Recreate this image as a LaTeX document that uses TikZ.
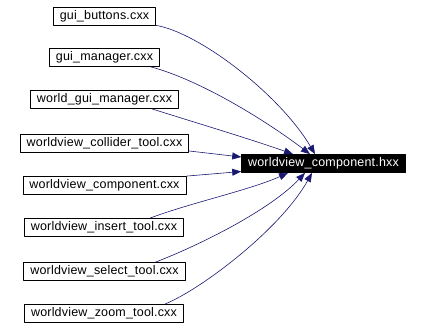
\documentclass[tikz,border=0pt]{standalone}
\usepackage{fontspec}
\setmainfont{Liberation Sans}[LetterSpace=1.5]
\usetikzlibrary{calc,arrows.meta}
\definecolor{edgeblue}{HTML}{191970}
\tikzset{depgraph/.style={
  x=1pt,y=-1pt,
  >={Triangle[length=9pt,width=7pt]},line join=round
},
  file/.style={draw,line width=0.8pt,font=\fontsize{12.5}{14}\selectfont,
    inner xsep=6.5pt,inner ysep=0pt,minimum height=18pt},
  header/.style={file,fill=black,text=white},
  dep/.style={->,edgeblue,line width=0.6pt}
}

\begin{document}
\begin{tikzpicture}[depgraph]
  \useasboundingbox (0,0) rectangle (422,329);
  \node[file] (buttons) at (104.5,16) {gui\_buttons.cxx};
  \node[file] (guimgr) at (104.5,57.5) {gui\_manager.cxx};
  \node[file] (worldgui) at (104.5,99.5) {world\_gui\_manager.cxx};
  \node[file] (collider) at (104.5,143) {worldview\_collider\_tool.cxx};
  \node[file] (compsrc) at (104.5,185.5) {worldview\_component.cxx};
  \node[file] (insert) at (104,227.5) {worldview\_insert\_tool.cxx};
  \node[file] (select) at (104.5,271.5) {worldview\_select\_tool.cxx};
  \node[file] (zoomtool) at (104,313.5) {worldview\_zoom\_tool.cxx};
  \node[header] (comp) at (323.5,163.5) {worldview\_component.hxx};
  % includes
  \draw[dep] (buttons.south east) .. controls (200,33) and (280,95) .. ([xshift=-8.5pt]comp.north);
  \draw[dep] ([xshift=-9pt]guimgr.south east) .. controls (200,80) and (265,120) .. ([xshift=-13.5pt]comp.north);
  \draw[dep] ([xshift=-27pt]worldgui.south east) .. controls (200,124) and (250,139) .. ([xshift=-30.5pt]comp.north);
  \draw[dep] ([yshift=-8pt]collider.east) -- ([yshift=6.5pt]comp.west);
  \draw[dep] (compsrc.north east) -- ([yshift=-8pt]comp.west);
  \draw[dep] ([xshift=-34pt]insert.north east) .. controls (190,203) and (250,190) .. ([xshift=-35.5pt]comp.south);
  \draw[dep] ([xshift=-30pt]select.north east) .. controls (200,245) and (270,210) .. ([xshift=-18.5pt]comp.south);
  \draw[dep] ([xshift=-19pt]zoomtool.north east) .. controls (200,290) and (280,230) .. ([xshift=-11.5pt]comp.south);
\end{tikzpicture}
\end{document}
